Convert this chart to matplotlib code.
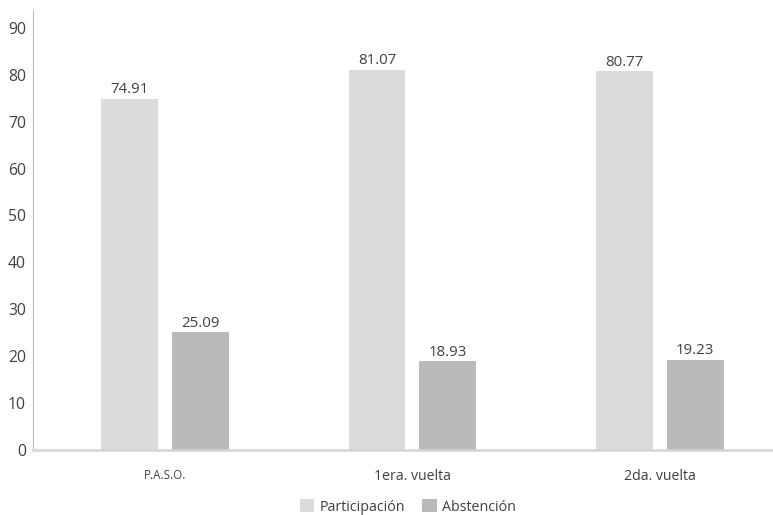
import matplotlib
matplotlib.use("Agg")
import matplotlib.pyplot as plt
import numpy as np

categories = ["P.A.S.O.", "1era. vuelta", "2da. vuelta"]
participacion = [74.91, 81.07, 80.77]
abstencion = [25.09, 18.93, 19.23]
yticks = [0, 10, 20, 30, 40, 50, 60, 70, 80, 90]

plt.rcParams["font.family"] = ["Open Sans", "DejaVu Sans"]
text_color = "#404040"

fig = plt.figure(figsize=(7.73, 5.15), dpi=100)
ax = fig.add_axes([33 / 773, 1 - 450 / 515, 1 - 33 / 773, 440 / 515])

x = np.arange(len(categories))
w = 0.23
off = 0.143
b1 = ax.bar(x - off, participacion, w, color="#dcdcdc", label="Participación")
b2 = ax.bar(x + off, abstencion, w, color="#bababa", label="Abstención")

for bars, vals in ((b1, participacion), (b2, abstencion)):
    for r, v in zip(bars, vals):
        ax.text(r.get_x() + r.get_width() / 2, v + 0.3, f"{v:.2f}", ha="center",
                va="bottom", fontsize=10.8, color=text_color)

ax.set_xlim(-0.533, 2.457)
ax.set_ylim(0, 93.8)
ax.set_yticks(yticks)
ax.set_xticks(x)
ax.set_xticklabels(categories)
for lbl in ax.get_xticklabels():
    lbl.set_color(text_color)
    lbl.set_fontsize(10.2)
ax.get_xticklabels()[0].set_fontsize(8.4)
ax.tick_params(axis="x", length=0, pad=14)
ax.tick_params(axis="y", length=0, pad=5, labelsize=11.3, labelcolor=text_color)

for s in ("top", "right"):
    ax.spines[s].set_visible(False)
ax.spines["left"].set_color("#bfbfbf")
ax.spines["left"].set_linewidth(0.8)
ax.spines["bottom"].set_color("#d4d4d4")
ax.spines["bottom"].set_linewidth(1.8)

fig.legend(handles=[b1, b2], loc="center", bbox_to_anchor=(408 / 773, 1 - 507 / 515),
           ncol=2, frameon=False, fontsize=10.3, handlelength=1.0, handleheight=1.0,
           handletextpad=0.4, columnspacing=1.2, labelcolor=text_color,
           borderpad=0)

fig.savefig("out.png", dpi=100)
